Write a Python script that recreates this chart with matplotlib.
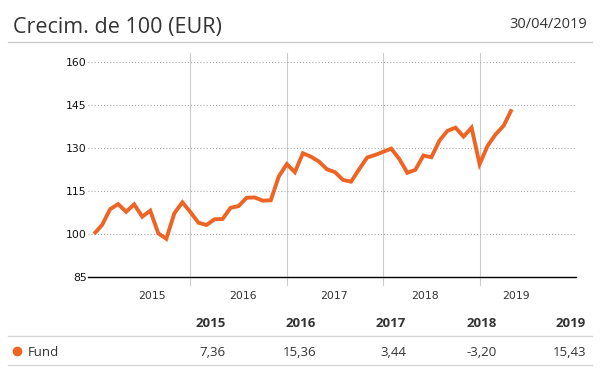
"""Growth of 100 (EUR) chart with yearly returns table."""
import matplotlib
matplotlib.use("Agg")
import matplotlib.pyplot as plt
from matplotlib.lines import Line2D
import numpy as np

W, H = 602, 380

# monthly values, end of 2014 -> 30/04/2019
fund_values = [
    100.0, 103.1, 108.6, 110.4, 107.7, 110.3, 106.0, 108.1, 100.2, 98.3, 107.2, 111.0,
    107.6, 103.9, 103.1, 105.1, 105.2, 109.1, 109.7, 112.6, 112.7, 111.6, 111.7, 120.0,
    124.3, 121.5, 128.1, 126.9, 125.2, 122.5, 121.5, 118.8, 118.2, 122.5, 126.6, 127.5,
    128.6, 129.7, 126.1, 121.3, 122.3, 127.3, 126.7, 132.5, 135.9, 137.0, 133.9, 137.0,
    124.3, 130.7, 134.7, 137.7, 143.4,
]
year_labels = ["2015", "2016", "2017", "2018", "2019"]
year_ends = [12, 24, 36, 48]           # month index of each year-end separator
y_ticks = [85, 100, 115, 130, 145, 160]
fund_returns = [7.36, 15.36, 3.44, -3.20, 15.43]

LINE_COLOR = "#EE6424"
TEXT_COLOR = "#333333"
FONT = "Open Sans"

# where the x labels sit (month index), spaced evenly like the original
label_pos = [7.2, 18.6, 29.9, 41.2, 52.5]


def fx(px):
    return px / W


def fy(py):
    return 1 - py / H


fig = plt.figure(figsize=(W / 100, H / 100), dpi=100)
ax = fig.add_axes([fx(88), fy(277), fx(576) - fx(88), fy(53) - fy(277)])

x = np.arange(len(fund_values))
ax.plot(x, fund_values, color=LINE_COLOR, linewidth=2.8, solid_joinstyle="miter",
        solid_capstyle="butt", zorder=5)

ax.set_xlim(-0.75, 60)
ax.set_ylim(85, 163)

for ye in year_ends:
    ax.axvline(ye, ymin=-0.036, ymax=1, color="#cccccc", linewidth=0.8,
               clip_on=False, zorder=1)

for yt in y_ticks[1:]:
    ax.axhline(yt, color="#999999", linewidth=0.8, linestyle=(0, (0.8, 2.0)), zorder=1)

ax.set_yticks(y_ticks)
ax.set_yticklabels([str(v) for v in y_ticks])
ax.set_xticks(label_pos)
ax.set_xticklabels(year_labels)
ax.tick_params(axis="y", length=0, pad=1, labelsize=7.8, labelcolor="#111111")
ax.tick_params(axis="x", length=0, pad=10, labelsize=7.8, labelcolor=TEXT_COLOR)
for lab in ax.get_xticklabels() + ax.get_yticklabels():
    lab.set_family("DejaVu Sans")

for side in ["top", "right", "left"]:
    ax.spines[side].set_visible(False)
ax.spines["bottom"].set_color("black")
ax.spines["bottom"].set_linewidth(1.0)
ax.spines["bottom"].set_zorder(6)

# header
fig.text(fx(13), fy(33), "Crecim. de 100 (EUR)", fontsize=15.5, color=TEXT_COLOR,
         family=FONT, va="baseline", ha="left")
fig.text(fx(587), fy(28.5), "30/04/2019", fontsize=10.5, color=TEXT_COLOR,
         family=FONT, va="baseline", ha="right")
fig.add_artist(Line2D([fx(8), fx(592)], [fy(42.3), fy(42.3)], color="#cccccc", linewidth=1.0))

# returns table
col_right = [226, 316, 406, 496.5, 586]
for px, yr in zip(col_right, year_labels):
    fig.text(fx(px), fy(326.7), yr, fontsize=9.5, fontweight="bold", color=TEXT_COLOR,
             family=FONT, ha="right", va="baseline")
for px, val in zip(col_right, fund_returns):
    txt = f"{val:.2f}".replace(".", ",")
    fig.text(fx(px), fy(356), txt, fontsize=9.5, color=TEXT_COLOR,
             family=FONT, ha="right", va="baseline")

fig.add_artist(Line2D([fx(16.7)], [fy(351)], marker="o", markersize=6,
                      color=LINE_COLOR, linestyle="none"))
fig.text(fx(27.7), fy(356), "Fund", fontsize=9.5, color=TEXT_COLOR, family=FONT,
         ha="left", va="baseline")

for py in (336, 365.3):
    fig.add_artist(Line2D([fx(8), fx(592)], [fy(py), fy(py)], color="#d5d5d5", linewidth=1.0))

fig.savefig("out.png", dpi=100)
